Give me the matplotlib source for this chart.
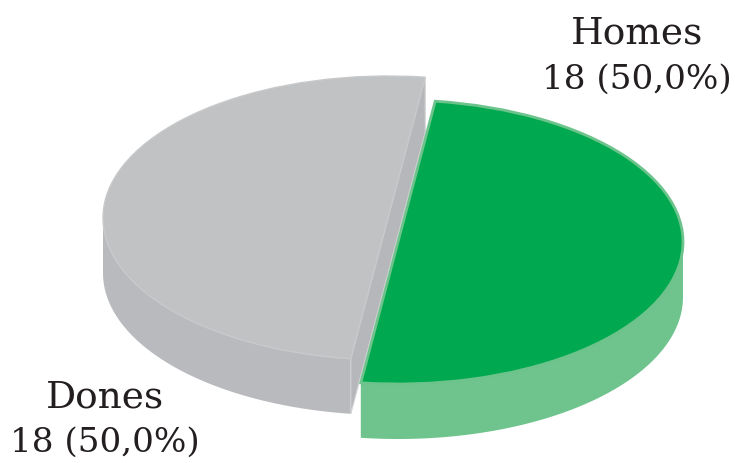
import numpy as np
from matplotlib import pyplot as plt

labels = ['Dones', 'Homes']
counts = [18, 18]
shares = ['50,0%', '50,0%']

top_colors = ['#c1c2c4', '#00a84f']
edge_colors = ['#c8c9cb', '#6cc38b']
edge_widths = [1.0, 2.0]
wall_colors = ['#b9babd', '#6fc48d']
cut_color = '#b6b7ba'

W, H = 735, 463
rx, ry = 285.0, 142.0        # px per data unit
cx, cy = 393.0, 230.0        # px of data origin
depth = 55.0 / ry
centers = [(-5.0 / rx, 12.0 / ry), (5.0 / rx, -12.0 / ry)]

fig = plt.figure(figsize=(W / 100, H / 100), dpi=100)
ax = fig.add_axes([0, 0, 1, 1])

wedges, _ = ax.pie(counts, colors=top_colors, startangle=82.5, counterclock=True)


def arc(center, t1, t2, n=120):
    t = np.radians(np.linspace(t1, t2, n))
    return center[0] + np.cos(t), center[1] + np.sin(t)


for i, w in enumerate(wedges):
    w.set_center(centers[i])
    w.set_edgecolor(edge_colors[i])
    w.set_linewidth(edge_widths[i])
    w.set_zorder(3 + 2 * i)

    # outer wall, only the part facing down is visible
    t1 = w.theta1
    t2 = w.theta2
    if i == 0:
        a, b = 180, t2
    else:
        a, b = t1, 360
    x, y = arc(centers[i], a, b)
    xs = np.r_[x, x[::-1]]
    ys = np.r_[y, y[::-1] - depth]
    ax.fill(xs, ys, color=wall_colors[i], lw=0, zorder=2 + 2 * i)

# cut face of the grey half
x, y = arc(centers[0], wedges[0].theta1, wedges[0].theta2, 2)
ax.fill([x[0], x[1], x[1], x[0]], [y[0], y[1], y[1] - depth, y[0] - depth],
        color=cut_color, ec='#d0d1d3', lw=0.8, zorder=2.5)

ax.set_aspect('auto')
ax.set_xlim(-cx / rx, (W - cx) / rx)
ax.set_ylim((cy - H) / ry, cy / ry)
ax.axis('off')

font = {'family': 'DejaVu Serif', 'color': '#231f20', 'ha': 'center', 'va': 'center'}
fig.text(637 / W, 1 - 33 / H, labels[1], fontsize=27, **font)
fig.text(637 / W, 1 - 80 / H, '%d (%s)' % (counts[1], shares[1]), fontsize=24.7, **font)
fig.text(105 / W, 1 - 397 / H, labels[0], fontsize=27, **font)
fig.text(105 / W, 1 - 443 / H, '%d (%s)' % (counts[0], shares[0]), fontsize=24.7, **font)

fig.savefig('out.png', dpi=100)
